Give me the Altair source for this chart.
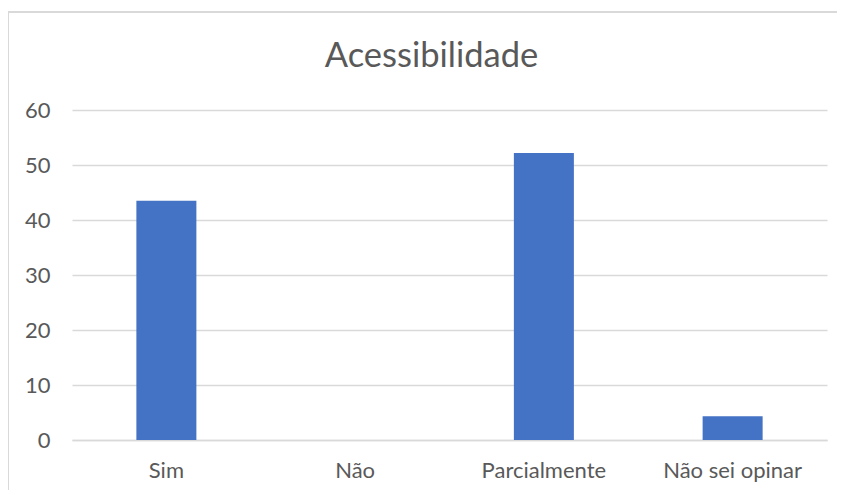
import altair as alt
import pandas as pd

categories = ["Sim", "Não", "Parcialmente", "Não sei opinar"]
values = [43.5, 0, 52.2, 4.3]
y_ticks = [0, 10, 20, 30, 40, 50, 60]

df = pd.DataFrame({"cat": categories, "val": values})

FONT = "Lato"
GRAY = "#595959"
GRID = "#d9d9d9"

bars = alt.Chart(df).mark_bar(color="#4472C4", size=60).encode(
    x=alt.X("cat:N", sort=categories,
            scale=alt.Scale(paddingInner=0, paddingOuter=0),
            axis=alt.Axis(title=None, labelAngle=0, labelFontSize=22, labelColor=GRAY,
                          labelFont=FONT, labelPadding=20, ticks=False,
                          domainColor=GRID, domainWidth=1.5)),
    y=alt.Y("val:Q", scale=alt.Scale(domain=[0, 60], nice=False),
            axis=alt.Axis(title=None, values=y_ticks, labelFontSize=22, labelColor=GRAY,
                          labelFont=FONT, labelPadding=22, ticks=False, domain=False,
                          gridColor=GRID, gridWidth=1.5)),
)

border_left = alt.Chart(df).mark_rule(color=GRID, strokeWidth=1.5).encode(
    x=alt.value(-64), y=alt.value(-98), y2=alt.value(500)
)
border_top = alt.Chart(df).mark_rule(color=GRID, strokeWidth=1.5).encode(
    x=alt.value(-64), x2=alt.value(900), y=alt.value(-98)
)

chart = alt.layer(border_left, border_top, bars).properties(
    width=755, height=330,
    title=alt.TitleParams("Acessibilidade", fontSize=34.5, font=FONT, fontWeight="normal",
                          color=GRAY, anchor="middle", offset=-63, dx=-18),
    autosize=alt.AutoSizeParams(type="none"),
    padding={"left": 64, "top": 102, "right": 10, "bottom": 50},
).configure_view(stroke=None)

chart.save("out.html", embed_options={"renderer": "svg", "actions": False})
